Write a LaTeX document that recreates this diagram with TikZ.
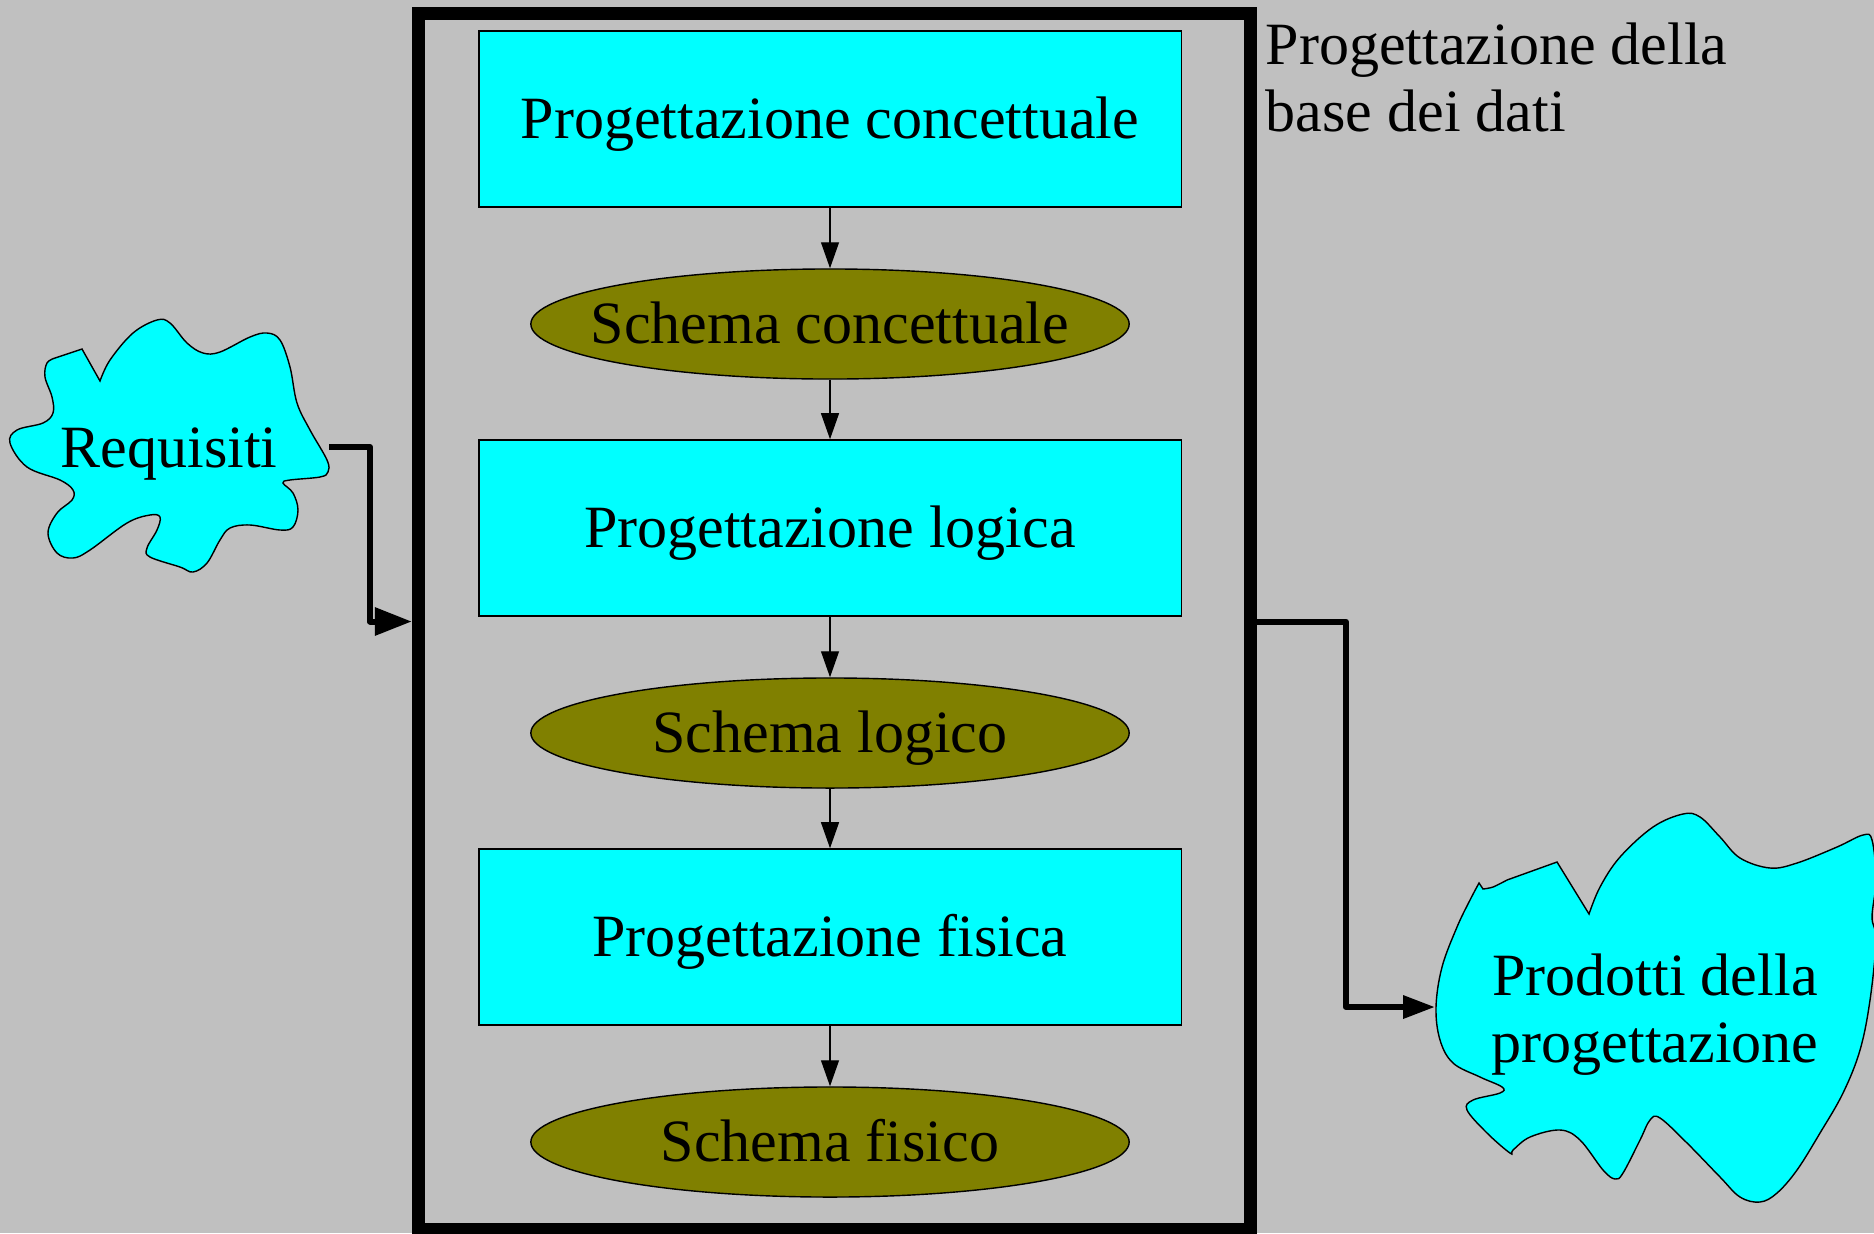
\documentclass[tikz,border=0pt]{standalone}
\usepackage{fontspec}
\setmainfont{Liberation Serif}
\usetikzlibrary{arrows.meta,shapes.geometric}
\definecolor{pagegray}{HTML}{C0C0C0}
\definecolor{phasecyan}{HTML}{00FFFF}
\definecolor{schemaolive}{HTML}{808000}
\newcommand\diagfont{\fontsize{17.07pt}{19.06pt}\selectfont}
\newcommand\schemalabel[1]{\makebox[0pt][c]{#1}}
\begin{document}
\begin{tikzpicture}[x=0.01cm,y=-0.01cm,
  phase/.style={draw=black, line width=0.4pt, fill=phasecyan,
    minimum width=7.02cm, minimum height=1.76cm, inner sep=0pt,
    text height=0.45cm, text depth=0.06cm, font=\diagfont},
  schema/.style={ellipse, draw=black, line width=0.4pt, fill=schemaolive,
    minimum width=5.98cm, minimum height=1.1cm, inner sep=0pt,
    text height=0.45cm, text depth=0.06cm, font=\diagfont},
  flow/.style={line width=0.4pt, -{Triangle[length=7.4pt,width=5.1pt]}},
  link/.style={line width=1.7pt, line join=round},
  cloudshape/.style={draw=black, line width=0.4pt, fill=phasecyan},
  caption/.style={font=\diagfont, inner sep=0pt}]

% page
\useasboundingbox (0,0) rectangle (1874,1233);
\fill[pagegray] (0,0) rectangle (1874,1233);

% enclosing frame of the design process
\node[draw=black, line width=3.7pt, minimum width=8.315cm, minimum height=12.15cm,
      inner sep=0pt] (frame) at (834.25,621.5) {};
\node[caption, anchor=north west, align=left] (title) at (1265,22)
  {Progettazione della\\base dei dati};

% phases and their products
\node[phase]  (p1) at (830,119)  {Progettazione concettuale};
\node[schema] (s1) at (830,324)  {\schemalabel{Schema concettuale}};
\node[phase]  (p2) at (830,528)  {Progettazione logica};
\node[schema] (s2) at (830,733)  {\schemalabel{Schema logico}};
\node[phase]  (p3) at (830,937)  {Progettazione fisica};
\node[schema] (s3) at (830,1142) {\schemalabel{Schema fisico}};

\draw[flow] (p1) -- (s1);
\draw[flow] (s1) -- (p2);
\draw[flow] (p2) -- (s2);
\draw[flow] (s2) -- (p3);
\draw[flow] (p3) -- (s3);

% input cloud
\draw[cloudshape] (82,349) -- plot[smooth, tension=0.6] coordinates {
  (100,381) (110,360) (133,333) (157,320) (170,323) (187,343) (203,353)
  (220,352) (250,337) (267,333) (280,340) (290,367) (297,403) (310,430)
  (327,460) (328,472) (320,477) (290,480) (283,483) (293,493) (298,510)
  (293,527) (280,530) (250,525) (230,528) (220,540) (207,563) (193,572)
  (180,567) (150,557) (147,548) (157,530) (160,517) (150,515) (127,523)
  (90,550) (73,558) (57,553) (48,533) (57,513) (72,500) (73,490) (60,480)
  (27,467) (10,443) (17,430) (43,423) (53,413) (52,397) (45,377) (47,363)
  (55,358)} -- cycle;
\node[caption, anchor=base] (req) at (169,467) {Requisiti};
\coordinate (reqout) at (329,447);

% output cloud
\draw[cloudshape] (1557,862) -- plot[smooth, tension=0.6] coordinates {
  (1589,914) (1600,887) (1620,857) (1653,827) (1683,814) (1700,817)
  (1720,837) (1740,858) (1770,868) (1797,863) (1837,847) (1863,835)
  (1872,840) (1876,880) (1872,917) (1876,940) (1870,1000) (1860,1050)
  (1843,1093) (1820,1133) (1797,1170) (1777,1193) (1760,1202) (1740,1197)
  (1720,1177) (1687,1143) (1660,1118) (1650,1120) (1640,1140) (1623,1173)
  (1615,1179) (1603,1170) (1580,1140) (1560,1130) (1530,1137) (1513,1150)
  (1510,1153) (1487,1133) (1467,1110) (1473,1100) (1500,1093) (1502,1087)
  (1480,1077) (1453,1063) (1440,1040) (1436,1007) (1442,967) (1457,927)
  (1470,900) (1479,883)}
  -- plot[smooth] coordinates {(1483,889) (1493,887) (1507,880)} -- cycle;
\node[caption, anchor=north, align=center] (prod) at (1655,953)
  {Prodotti della\\progettazione};
\coordinate (prodin) at (1435,1007);

% connectors into and out of the frame
\draw[link, -{Triangle[length=10.5pt,width=7.7pt]}]
  (reqout) -- ++(41,0) |- (frame.west);
\draw[link, -{Triangle[length=9.1pt,width=6.3pt]}]
  (frame.east) -- ++(89,0) |- (prodin);
\end{tikzpicture}
\end{document}
